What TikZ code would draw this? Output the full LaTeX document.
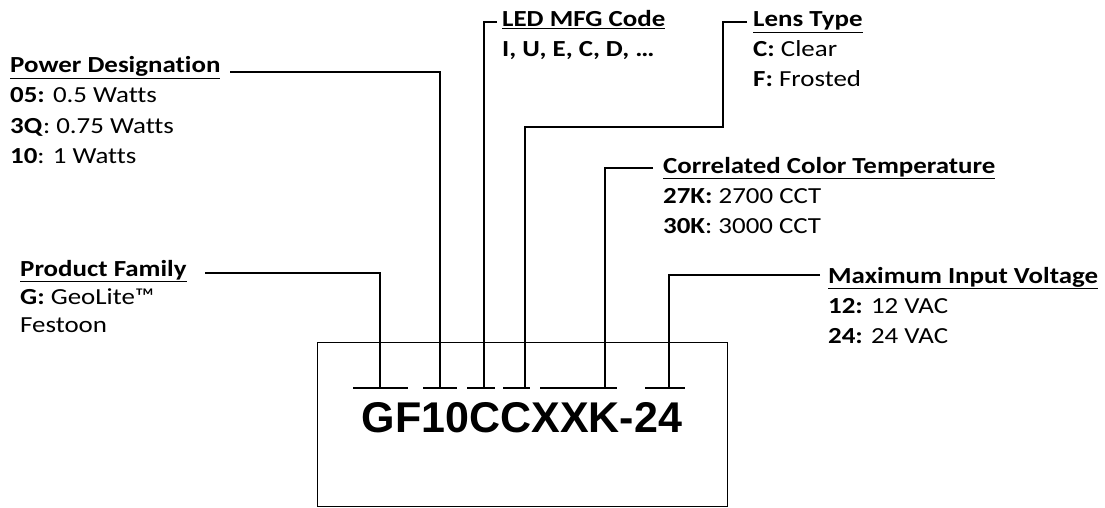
\documentclass[tikz,border=0pt]{standalone}
\usepackage{fontspec}
\setmainfont{Carlito}[FakeStretch=1.17, Ligatures=NoCommon]
\newfontfamily\codefont{Liberation Sans}

\begin{document}
\begin{tikzpicture}[x=1pt,y=-1pt]
    \tikzstyle{every node}=[font=\fontsize{23}{30}\selectfont, inner sep=0pt]
    \tikzstyle{lbl}=[anchor=base west, align=left]
    \tikzstyle{lead}=[line width=1.8pt]
    \tikzstyle{seg}=[line width=1.8pt]
    \useasboundingbox (0,0) rectangle (1105,508);

      % part number box
      \draw[line width=1pt] (317,342) rectangle (727,506);
      \node[anchor=base, font=\codefont\bfseries\fontsize{43}{43}\selectfont]
        (code) at (522,432) {GF10CCXXK-24};

      % segments under the code
      \foreach \name/\a/\m/\b in {G/353/380/408, F/423/440/457, N/467/484/495,
                                  Z/503/525/530, X/540/605/617, V/645/669/685}{
        \coordinate (\name) at (\m,388);
        \draw[seg] (\a,388) -- (\b,388);
      }

      % labels (placed at the baseline of their last line)
      \node[lbl] (pd) at (10,163) {\underline{\textbf{Power Designation}}\\
        \textbf{05:} 0.5 Watts\\\textbf{3Q}: 0.75 Watts\\\textbf{10}: 1 Watts};
      \node[lbl, font=\fontsize{23}{28}\selectfont] (pf) at (20,332)
        {\underline{\textbf{Product Family}}\\\textbf{G:} GeoLite™\\Festoon};
      \node[lbl] (led) at (502,57) {\underline{\textbf{LED MFG Code}}\\
        \textbf{I, U, E, C, D, \dots}};
      \node[lbl] (lens) at (753,87) {\underline{\textbf{Lens Type}}\\
        \textbf{C:} Clear\\\textbf{F:} Frosted};
      \node[lbl] (cct) at (663,233) {\underline{\textbf{Correlated Color Temperature}}\\
        \textbf{27K:} 2700 CCT\\\textbf{30K}: 3000 CCT};
      \node[lbl] (miv) at (828,343) {\underline{\textbf{Maximum Input Voltage}}\\
        \textbf{12:} 12 VAC\\\textbf{24:} 24 VAC};

      % leaders
      \coordinate (pfa) at (205,273);
      \coordinate (pda) at (230,72);
      \coordinate (leda) at (497,22);
      \coordinate (lensa) at (747,22);
      \coordinate (lensb) at (723,127);
      \coordinate (ccta) at (653,168);
      \coordinate (miva) at (820,275);
      \draw[lead] (pfa) -| (G);
      \draw[lead] (pda) -| (F);
      \draw[lead] (leda) -| (N);
      \draw[lead] (lensa) -| (lensb) -| (Z);
      \draw[lead] (ccta) -| (X);
      \draw[lead] (miva) -| (V);

    \end{tikzpicture}
\end{document}
